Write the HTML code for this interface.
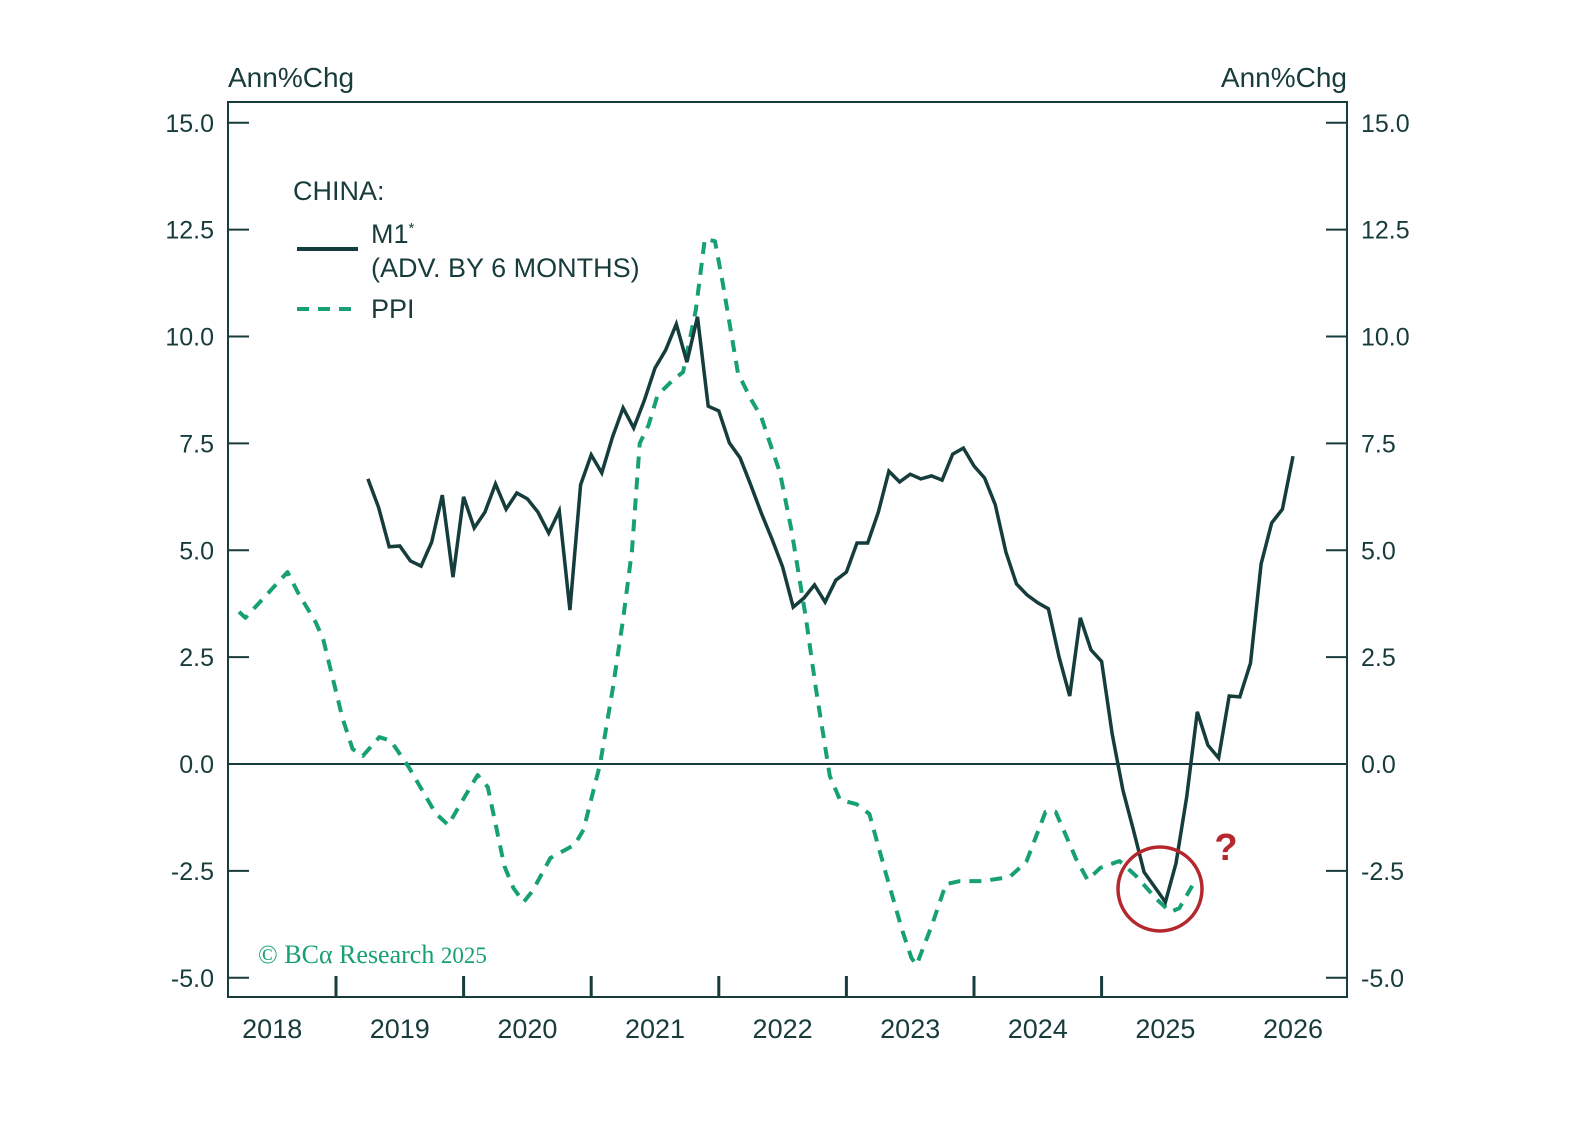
<!DOCTYPE html>
<html><head><meta charset="utf-8">
<style>
html,body{margin:0;padding:0;background:#fff;}
svg{display:block;}
text{font-family:"Liberation Sans","DejaVu Sans",sans-serif;fill:#173c3b;}
</style></head>
<body>
<svg id="chart" width="1588" height="1144" viewBox="0 0 1588 1144" xmlns="http://www.w3.org/2000/svg">
  <rect x="0" y="0" width="1588" height="1144" fill="#fff"/>
  <text x="228" y="87" font-size="28">Ann%Chg</text>
  <text x="1347" y="87" font-size="28" text-anchor="end">Ann%Chg</text>
  <rect x="228" y="102" width="1119" height="895" fill="none" stroke="#173c3b" stroke-width="2"/>
  <g id="axes"></g>
  <g id="series"></g>
  <g>
    <text x="293" y="200" font-size="27">CHINA:</text>
    <line x1="297" y1="249" x2="358" y2="249" stroke="#153d3c" stroke-width="4"/>
    <text x="371" y="243" font-size="27">M1<tspan font-size="15" dy="-10">*</tspan></text>
    <text x="371" y="277" font-size="27">(ADV. BY 6 MONTHS)</text>
    <line x1="297" y1="309" x2="358" y2="309" stroke="#17a075" stroke-width="4" stroke-dasharray="12,9"/>
    <text x="371" y="318" font-size="27">PPI</text>
  </g>
  <text x="258" y="963" font-size="26" style="font-family:'Liberation Serif',serif;fill:#17a075">© BCα Research <tspan font-size="23">2025</tspan></text>
  <circle cx="1160" cy="889" r="42" fill="none" stroke="#b5282e" stroke-width="3.5"/>
  <text x="1226" y="860" font-size="38" font-weight="bold" text-anchor="middle" style="fill:#b5282e">?</text>
</svg>
<script>
// ---- data ----
const yTicks = [15.0, 12.5, 10.0, 7.5, 5.0, 2.5, 0.0, -2.5, -5.0];
const yTickLabels = ["15.0","12.5","10.0","7.5","5.0","2.5","0.0","-2.5","-5.0"];
const xYears = [2018, 2019, 2020, 2021, 2022, 2023, 2024, 2025, 2026];
const xTickYears = [2019, 2020, 2021, 2022, 2023, 2024, 2025];
const m1Start = 2019.25; // monthly series start (advanced by 6 months)
const m1Values = [6.67,6.01,5.08,5.10,4.75,4.63,5.19,6.29,4.37,6.25,
  5.52,5.89,6.55,5.96,6.34,6.20,5.89,5.40,5.92,3.6,
  6.53,7.23,6.81,7.65,8.33,7.86,8.51,9.26,9.68,10.29,
  9.40,10.46,8.37,8.26,7.51,7.16,6.53,5.87,5.26,4.61,
  3.67,3.88,4.19,3.79,4.30,4.49,5.17,5.17,5.89,6.85,
  6.60,6.78,6.67,6.74,6.64,7.25,7.39,6.97,6.69,6.06,
  4.96,4.21,3.95,3.77,3.63,2.50,1.59,3.42,2.67,2.40,
  0.70,-0.61,-1.55,-2.53,-2.88,-3.23,-2.32,-0.77,1.22,0.44,
  0.14,1.59,1.57,2.36,4.68,5.64,5.96,7.20];
const ppiDates = [2018.24,2018.29,2018.62,2018.70,2018.84,2018.90,2019.05,2019.13,2019.21,2019.34,
  2019.43,2019.57,2019.78,2019.88,2019.96,2020.11,2020.19,2020.32,2020.39,2020.47,
  2020.54,2020.68,2020.87,2020.94,2021.07,2021.17,2021.25,2021.32,2021.38,2021.45,
  2021.52,2021.64,2021.72,2021.82,2021.89,2021.97,2022.03,2022.15,2022.25,2022.33,
  2022.48,2022.57,2022.68,2022.76,2022.87,2022.95,2023.08,2023.18,2023.31,2023.44,
  2023.51,2023.55,2023.67,2023.78,2023.89,2024.07,2024.28,2024.41,2024.56,2024.64,
  2024.80,2024.89,2024.99,2025.14,2025.27,2025.43,2025.54,2025.61,2025.71];
const ppiValues = [3.56,3.42,4.49,4.02,3.32,2.92,1.08,0.35,0.19,0.63,
  0.54,-0.07,-1.15,-1.43,-1.01,-0.26,-0.54,-2.39,-2.90,-3.23,
  -2.97,-2.20,-1.89,-1.54,0.0,1.78,3.39,5.0,7.5,7.93,
  8.63,8.98,9.17,10.62,12.28,12.23,11.27,9.15,8.54,8.14,
  6.81,5.47,3.46,1.78,-0.28,-0.84,-0.94,-1.17,-2.57,-3.91,
  -4.54,-4.70,-3.77,-2.81,-2.74,-2.74,-2.64,-2.29,-1.12,-1.12,
  -2.22,-2.71,-2.43,-2.27,-2.62,-3.16,-3.46,-3.37,-2.85];

// ---- scales ----
const X0 = 228, X1 = 1347, Y0 = 102, Y1 = 997;
function xs(t){ return 336 + (t - 2019) * 127.6; }
function ys(v){ return 764 - v * 42.75; }
const NS = "http://www.w3.org/2000/svg";
function mk(tag, attrs, parent){
  const e = document.createElementNS(NS, tag);
  for (const k in attrs) e.setAttribute(k, attrs[k]);
  parent.appendChild(e);
  return e;
}
const axes = document.getElementById('axes');
const series = document.getElementById('series');
const C = "#173c3b";

yTicks.forEach((v, i) => {
  const y = ys(v);
  const tl = mk('line', {x1:X0, x2:X0+21, y1:y, y2:y, stroke:C, 'stroke-width':2}, axes);
  
  
  const tr = mk('line', {x1:X1-21, x2:X1, y1:y, y2:y, stroke:C, 'stroke-width':2}, axes);
  
  
  const lt = mk('text', {x:214, y:y+9, 'font-size':25, 'text-anchor':'end'}, axes);
  lt.textContent = yTickLabels[i];
  
  
  const rt = mk('text', {x:1361, y:y+9, 'font-size':25}, axes);
  rt.textContent = yTickLabels[i];
  
  
});
const zl = mk('line', {x1:X0, x2:X1, y1:ys(0), y2:ys(0), stroke:C, 'stroke-width':2}, axes);



xTickYears.forEach(t => {
  const x = xs(t);
  const tk = mk('line', {x1:x, x2:x, y1:Y1-21, y2:Y1, stroke:C, 'stroke-width':3}, axes);
  
  
});
xYears.forEach(t => {
  const lb = mk('text', {x:xs(t + 0.5), y:1038, 'font-size':27, 'text-anchor':'middle'}, axes);
  lb.textContent = String(t);
  
  
});

// PPI dashed
let dP = ppiDates.map((t, i) => (i ? 'L' : 'M') + xs(t).toFixed(1) + ',' + ys(ppiValues[i]).toFixed(1)).join(' ');
const ppi = mk('path', {d:dP, fill:'none', stroke:'#17a075', 'stroke-width':4, 'stroke-dasharray':'12,9', 'stroke-linejoin':'round'}, series);



// M1 solid
let dM = m1Values.map((v, i) => (i ? 'L' : 'M') + xs(m1Start + i/12).toFixed(1) + ',' + ys(v).toFixed(1)).join(' ');
const m1 = mk('path', {d:dM, fill:'none', stroke:'#153d3c', 'stroke-width':3.5, 'stroke-linejoin':'miter'}, series);


</script>
</body></html>
